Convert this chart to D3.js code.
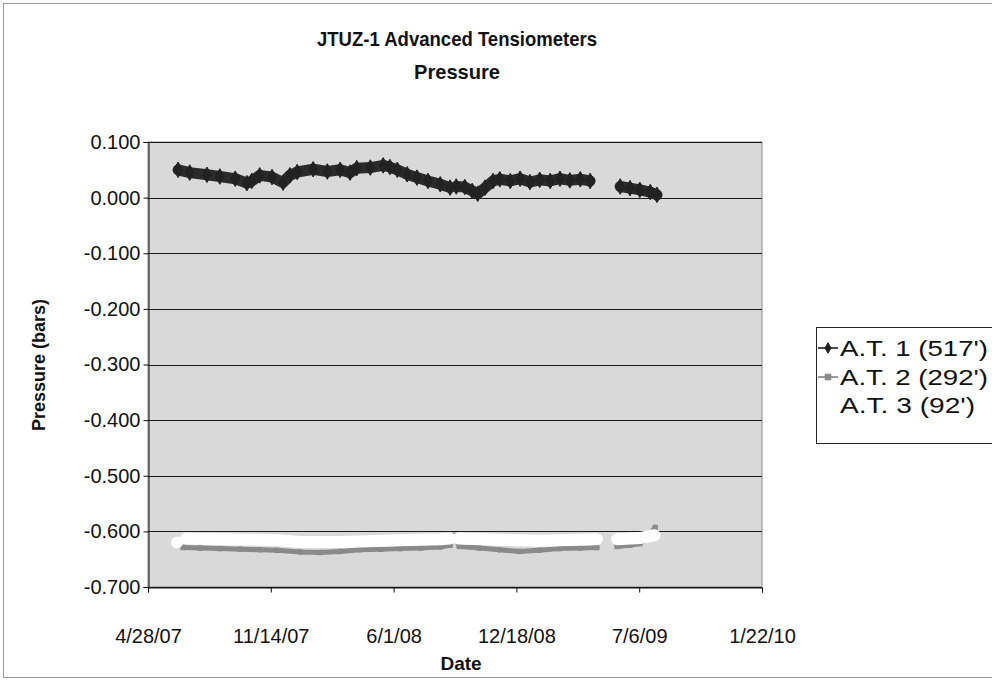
<!DOCTYPE html>
<html>
<head>
<meta charset="utf-8">
<script src="https://cdn.jsdelivr.net/npm/d3@7"></script>
<style>
  html, body { margin: 0; padding: 0; background: #ffffff; }
  svg { display: block; font-family: "Liberation Sans", Arial, sans-serif; }
</style>
</head>
<body>
<svg id="chart" width="992" height="683"></svg>
<script>
// ---------------- data ----------------
const titleLines = ["JTUZ-1 Advanced Tensiometers", "Pressure"];
const xAxisTitle = "Date";
const yAxisTitle = "Pressure (bars)";
const seriesNames = ["A.T. 1 (517')", "A.T. 2 (292')", "A.T. 3 (92')"];

const xTickLabels = ["4/28/07", "11/14/07", "6/1/08", "12/18/08", "7/6/09", "1/22/10"];
const yTickValues = [0.1, 0.0, -0.1, -0.2, -0.3, -0.4, -0.5, -0.6, -0.7];

// A.T. 1 (517')
const at1Dates = ["2007-06-16","2007-07-05","2007-08-02","2007-08-23","2007-09-17","2007-10-06","2007-10-14","2007-10-27",
  "2007-11-16","2007-12-04","2007-12-15","2007-12-27","2008-01-22","2008-02-14","2008-03-06","2008-03-22","2008-04-02",
  "2008-04-24","2008-05-15","2008-05-26","2008-06-07","2008-06-23","2008-07-09","2008-07-27","2008-08-16","2008-09-01",
  "2008-09-06",
  "2008-09-11","2008-09-25","2008-10-07","2008-10-16","2008-10-28","2008-11-10","2008-11-21","2008-12-08","2008-12-24",
  "2009-01-09","2009-01-25","2009-02-11","2009-02-27","2009-03-15","2009-04-01","2009-04-17",
  "2009-05-10",
  "2009-06-05","2009-06-21","2009-07-07","2009-07-24","2009-08-04"];
const at1Values = [0.050,0.045,0.041,0.038,0.034,0.026,0.030,0.040,
  0.037,0.027,0.040,0.046,0.051,0.047,0.050,0.045,0.053,
  0.054,0.058,0.055,0.050,0.042,0.036,0.030,0.024,0.018,
  null,
  0.020,0.019,0.012,0.007,0.018,0.030,0.033,0.030,0.034,
  0.028,0.032,0.030,0.034,0.031,0.033,0.030,
  null,
  0.020,0.017,0.014,0.010,0.005];

// A.T. 2 (292')
const at2Dates = ["2007-06-24","2007-07-22","2007-08-23","2007-09-25","2007-10-27","2007-11-24","2008-01-01","2008-02-02",
  "2008-03-06","2008-04-07","2008-05-11","2008-06-12","2008-07-15","2008-08-16","2008-09-01",
  "2008-09-05",
  "2008-09-08","2008-09-16","2008-10-19","2008-11-20","2008-12-23","2009-01-24","2009-02-26","2009-04-01","2009-04-28",
  "2009-05-15",
  "2009-05-31","2009-06-21","2009-07-07","2009-07-20","2009-08-01"];
const at2Values = [-0.629,-0.630,-0.631,-0.632,-0.633,-0.634,-0.637,-0.638,
  -0.636,-0.633,-0.632,-0.631,-0.630,-0.628,-0.625,
  null,
  -0.607,-0.627,-0.630,-0.633,-0.636,-0.634,-0.631,-0.630,-0.629,
  null,
  -0.627,-0.625,-0.622,-0.612,-0.593];

// A.T. 3 (92')
const at3Dates = ["2007-06-14","2007-06-20","2007-06-29","2007-08-23","2007-10-27","2007-11-24","2008-01-01","2008-03-06",
  "2008-04-07","2008-06-12","2008-08-16","2008-09-01",
  "2008-09-05",
  "2008-09-14","2008-11-20","2009-01-24","2009-04-01","2009-04-28",
  "2009-05-15",
  "2009-05-31","2009-07-07","2009-07-31"];
const at3Values = [-0.620,null,-0.613,-0.614,-0.615,-0.616,-0.619,-0.619,
  -0.618,-0.616,-0.614,-0.613,
  null,
  -0.613,-0.615,-0.617,-0.615,-0.614,
  null,
  -0.614,-0.612,-0.607];

// ---------------- layout ----------------
const svg = d3.select("#chart");
const W = 992, H = 683;
const plot = { left: 148, top: 142, right: 762, bottom: 587 };

const parse = d3.timeParse("%Y-%m-%d");
const xStart = parse("2007-04-28"), xEnd = parse("2010-01-22");
const x = d3.scaleTime().domain([xStart, xEnd]).range([plot.left, plot.right]);
const y = d3.scaleLinear().domain([-0.7, 0.1]).range([plot.bottom, plot.top]);

const xTickDates = xTickLabels.map(s => d3.timeParse("%m/%d/%y")(s));

// outer chart border
svg.append("rect").attr("x", 3.5).attr("y", 3.5).attr("width", W + 20).attr("height", H - 9)
  .attr("fill", "#fff").attr("stroke", "#9a9a9a").attr("stroke-width", 1);

// plot background
svg.append("rect").attr("x", plot.left).attr("y", plot.top)
  .attr("width", plot.right - plot.left).attr("height", plot.bottom - plot.top)
  .attr("fill", "#d9d9d9").attr("stroke", "#8a8a8a").attr("stroke-width", 1);

// gridlines
svg.append("g").selectAll("line").data(yTickValues).join("line")
  .attr("x1", plot.left).attr("x2", plot.right)
  .attr("y1", d => Math.round(y(d)) + 0.5).attr("y2", d => Math.round(y(d)) + 0.5)
  .attr("stroke", "#1a1a1a").attr("stroke-width", 1);

// y axis
const yAxis = d3.axisLeft(y).tickValues(yTickValues).tickFormat(d3.format(".3f")).tickSize(5).tickPadding(3);
const gy = svg.append("g").attr("transform", `translate(${plot.left + 0.5},0)`).call(yAxis);
gy.selectAll("text").attr("font-size", 20).attr("fill", "#111")
  .attr("font-family", "Liberation Sans, Arial, sans-serif")
  .text(d => d3.format(".3f")(d).replace("−", "-"));
gy.selectAll("line, path").attr("stroke", "#111");

// x axis
const xAxis = d3.axisBottom(x).tickValues(xTickDates).tickFormat((d, i) => xTickLabels[i]).tickSize(5).tickPadding(36);
const gx = svg.append("g").attr("transform", `translate(0,${plot.bottom + 0.5})`).call(xAxis);
gx.selectAll("text").attr("font-size", 20).attr("fill", "#111")
  .attr("font-family", "Liberation Sans, Arial, sans-serif");
gx.selectAll("line, path").attr("stroke", "#111");

// series
function makeData(dates, values) {
  return dates.map((d, i) => ({ date: parse(d), value: values[i] }));
}
const series = [
  { name: seriesNames[0], data: makeData(at1Dates, at1Values), band: "#2b2b2b", bandW: 11, line: "#111", marker: "diamond", mfill: "#222", msize: 70 },
  { name: seriesNames[1], data: makeData(at2Dates, at2Values), band: "#8a8a8a", bandW: 5, line: "#777", marker: "square", mfill: "#8a8a8a", msize: 20 },
  { name: seriesNames[2], data: makeData(at3Dates, at3Values), band: "#ffffff", bandW: 12, line: "#fff", marker: "triangle", mfill: "#fff", msize: 40 }
];

const line = d3.line().defined(d => d.value !== null).x(d => x(d.date)).y(d => y(d.value)).curve(d3.curveLinear);

const gS = svg.append("g");
series.forEach(s => {
  gS.append("path").datum(s.data).attr("d", line)
    .attr("fill", "none").attr("stroke", s.band).attr("stroke-width", s.bandW)
    .attr("stroke-linejoin", "round").attr("stroke-linecap", "round");
  const sym = s.marker === "diamond" ? d3.symbolDiamond : (s.marker === "square" ? d3.symbolSquare : d3.symbolTriangle);
  gS.append("g").selectAll("path").data(s.data.filter(d => d.value !== null)).join("path")
    .attr("transform", d => `translate(${x(d.date)},${y(d.value)})`)
    .attr("d", d3.symbol().type(sym).size(s.msize))
    .attr("fill", s.mfill).attr("stroke", s.mfill);
});

// titles
svg.append("text").attr("x", 457).attr("y", 46).attr("text-anchor", "middle")
  .attr("font-size", 21).attr("font-weight", "bold").attr("fill", "#111")
  .attr("textLength", 280).attr("lengthAdjust", "spacingAndGlyphs").text(titleLines[0]);
svg.append("text").attr("x", 457).attr("y", 79).attr("text-anchor", "middle")
  .attr("font-size", 21).attr("font-weight", "bold").attr("fill", "#111")
  .attr("textLength", 86).attr("lengthAdjust", "spacingAndGlyphs").text(titleLines[1]);

svg.append("text").attr("x", 461).attr("y", 670).attr("text-anchor", "middle")
  .attr("font-size", 19).attr("font-weight", "bold").attr("fill", "#111").text(xAxisTitle);
svg.append("text").attr("transform", "translate(45,365) rotate(-90)").attr("text-anchor", "middle")
  .attr("font-size", 18).attr("font-weight", "bold").attr("fill", "#111").text(yAxisTitle);

// legend
const lg = svg.append("g");
lg.append("rect").attr("x", 816.5).attr("y", 327.5).attr("width", 200).attr("height", 116)
  .attr("fill", "#fff").attr("stroke", "#222").attr("stroke-width", 1);
const legendRows = [348, 377, 405];
const legendWidths = [148, 148, 135];
series.forEach((s, i) => {
  const yy = legendRows[i];
  lg.append("line").attr("x1", 818).attr("x2", 838).attr("y1", yy).attr("y2", yy)
    .attr("stroke", s.line).attr("stroke-width", 1.5);
  const sym = s.marker === "diamond" ? d3.symbolDiamond : (s.marker === "square" ? d3.symbolSquare : d3.symbolTriangle);
  lg.append("path").attr("transform", `translate(828,${yy})`)
    .attr("d", d3.symbol().type(sym).size(32))
    .attr("fill", s.mfill).attr("stroke", s.mfill);
  lg.append("text").attr("x", 840).attr("y", yy + 8).attr("font-size", 22).attr("fill", "#111")
    .attr("textLength", legendWidths[i]).attr("lengthAdjust", "spacingAndGlyphs").text(s.name);
});
</script>
</body>
</html>
